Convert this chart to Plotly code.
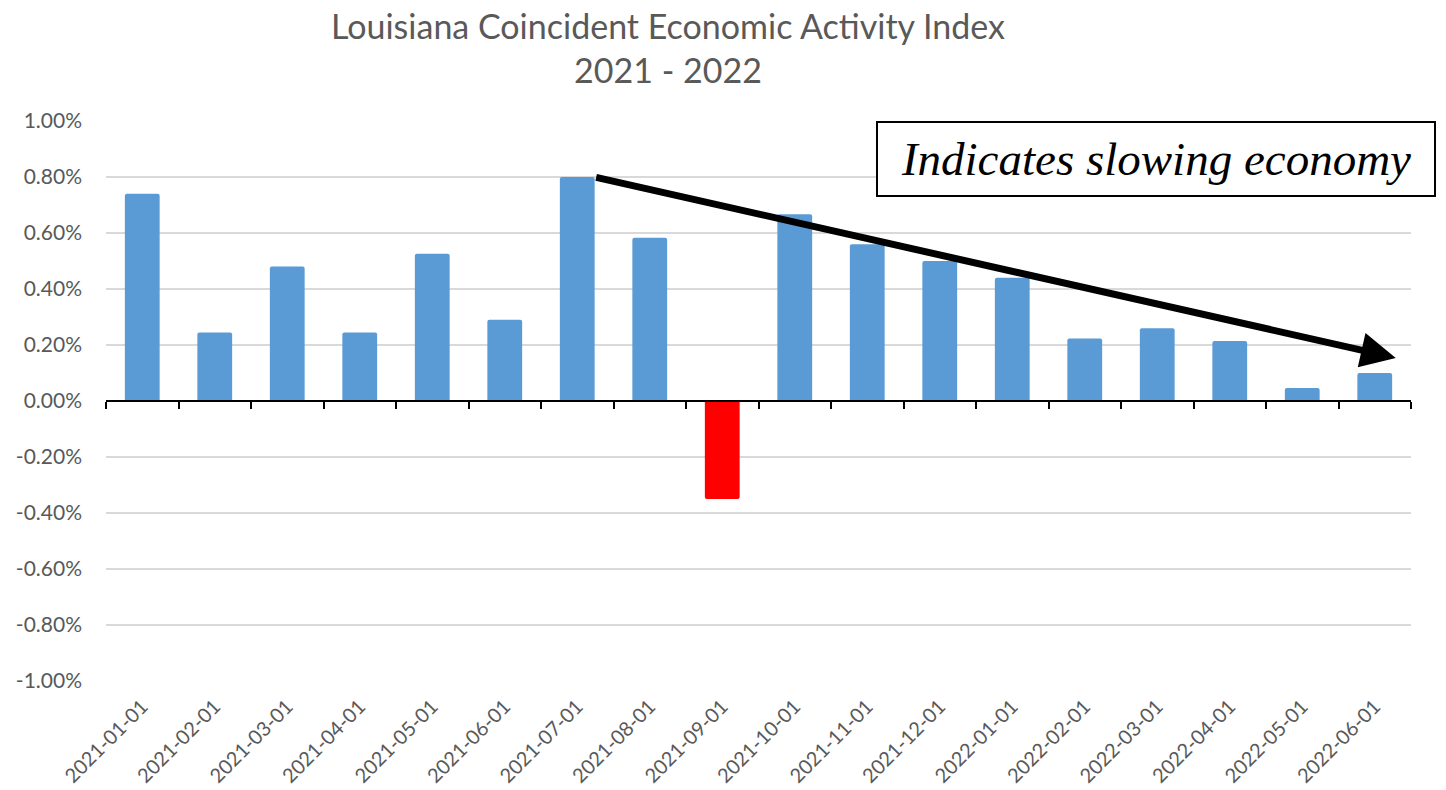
import plotly.graph_objects as go

# Monthly change in the Louisiana coincident index (fraction, 0.0074 = 0.74%)
months = [
    "2021-01-01", "2021-02-01", "2021-03-01", "2021-04-01", "2021-05-01", "2021-06-01",
    "2021-07-01", "2021-08-01", "2021-09-01", "2021-10-01", "2021-11-01", "2021-12-01",
    "2022-01-01", "2022-02-01", "2022-03-01", "2022-04-01", "2022-05-01", "2022-06-01",
]
change = [
    0.0074, 0.00245, 0.0048, 0.00245, 0.00526, 0.0029,
    0.0080, 0.00583, -0.0035, 0.00667, 0.0056, 0.0050,
    0.0044, 0.00223, 0.0026, 0.00214, 0.00046, 0.0010,
]
y_ticks = [-0.01, -0.008, -0.006, -0.004, -0.002, 0.0, 0.002, 0.004, 0.006, 0.008, 0.01]
y_tick_text = ["-1.00%", "-0.80%", "-0.60%", "-0.40%", "-0.20%", "0.00%",
               "0.20%", "0.40%", "0.60%", "0.80%", "1.00%"]

# Trend arrow: from the July 2021 peak to just past June 2022
trend_start = (6.24, 0.0080)
trend_end = (17.29, 0.00154)

BLUE = "#5B9BD5"
RED = "#FF0000"
GREY_TEXT = "#595959"

bar_colors = [RED if v < 0 else BLUE for v in change]

fig = go.Figure()
fig.add_trace(go.Bar(
    x=months, y=change, marker=dict(color=bar_colors, line=dict(width=0), cornerradius=2),
    width=0.48, showlegend=False, hoverinfo="x+y",
))
# helper trace so the zero axis (xaxis2) is drawn
fig.add_trace(go.Scatter(
    x=months, y=[0] * len(months), xaxis="x2", mode="lines",
    line=dict(width=0), hoverinfo="skip", showlegend=False,
))

fig.update_layout(
    width=1446, height=790,
    margin=dict(l=106, r=35, t=121, b=109, autoexpand=False),
    paper_bgcolor="white", plot_bgcolor="white",
    font=dict(family="Lato", color=GREY_TEXT),
    xaxis=dict(
        type="category", categoryorder="array", categoryarray=months,
        range=[-0.5, len(months) - 0.5],
        showgrid=False, showline=False, zeroline=False,
        ticks="outside", ticklen=5, tickcolor="rgba(0,0,0,0)",
        tickangle=-45, tickfont=dict(size=20, color=GREY_TEXT),
        automargin=False,
    ),
    xaxis2=dict(
        type="category", categoryorder="array", categoryarray=months,
        range=[-0.5, len(months) - 0.5],
        overlaying="x", anchor="free", position=0.5, side="bottom",
        showgrid=False, zeroline=False, showticklabels=False,
        showline=True, linecolor="black", linewidth=2,
        ticks="outside", tickson="boundaries", ticklen=7, tickwidth=2, tickcolor="black",
    ),
    yaxis=dict(
        range=[-0.01, 0.01], tickvals=y_ticks, ticktext=y_tick_text,
        showgrid=True, gridcolor="#D9D9D9", gridwidth=1.5,
        zeroline=False, showline=False, ticks="",
        ticklabelstandoff=23, tickfont=dict(size=21, color=GREY_TEXT),
        automargin=False,
    ),
    annotations=[
        dict(
            text="Louisiana Coincident Economic Activity Index<br>2021 - 2022",
            xref="paper", yref="paper",
            x=(668 - 106) / 1305, y=1 + (121 - 3) / 560,
            xanchor="center", yanchor="top", align="center", showarrow=False,
            font=dict(family="Lato", size=34, color=GREY_TEXT),
        ),
        dict(
            text="<i>Indicates slowing economy</i>",
            xref="paper", yref="paper", x=0.59, y=1.0,
            xanchor="left", yanchor="top",
            width=554, height=70, align="center", valign="middle",
            showarrow=False, bgcolor="white",
            bordercolor="black", borderwidth=2, borderpad=1,
            font=dict(family="Liberation Serif", size=47, color="black"),
        ),
        dict(
            text="", xref="x", yref="y", axref="x", ayref="y",
            x=trend_end[0], y=trend_end[1], ax=trend_start[0], ay=trend_start[1],
            showarrow=True, arrowhead=2, arrowsize=1.0, arrowwidth=7, arrowcolor="black",
        ),
    ],
)

fig.write_html("out.html")
